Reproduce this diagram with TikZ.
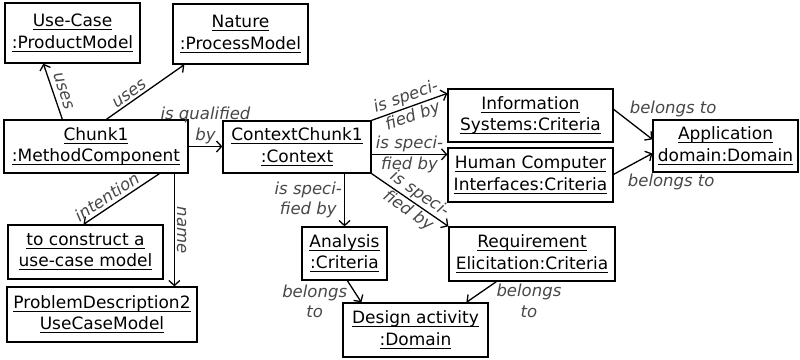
\documentclass[tikz,border=0pt]{standalone}
\usepackage{fontspec}
\setmainfont{DejaVu Sans}
\usetikzlibrary{arrows.meta}
\newcommand\ulx[1]{\setbox0\hbox{#1}\rlap{\rule[-3.5pt]{\wd0}{1.1pt}}\box0}
\newcommand\boxfont{\fontsize{17}{21.5}\selectfont}
\newcommand\labfont{\fontsize{16.5}{20.5}\selectfont\itshape}
\tikzset{
  obj/.style={draw, line width=1.3pt, inner sep=0pt, align=center, font=\boxfont},
  lab/.style={font=\labfont, text=black!72, inner sep=2pt, align=center},
  conn/.style={draw, line width=1.3pt, -{Straight Barb[length=5pt,width=11pt]}}
}
\begin{document}
\begin{tikzpicture}[x=1pt,y=-1pt]
\useasboundingbox (0,0) rectangle (800,359);
% objects
\node[obj, minimum width=135pt, minimum height=60pt] (usecase) at (72.5,33) {\ulx{Use-Case}\\\ulx{:ProductModel}};
\node[obj, minimum width=135pt, minimum height=60pt] (nature) at (240.5,34) {\ulx{Nature}\\\ulx{:ProcessModel}};
\node[obj, minimum width=184pt, minimum height=53pt] (chunk) at (96,146.5) {\ulx{Chunk1}\\\ulx{:MethodComponent}};
\node[obj, minimum width=148pt, minimum height=52pt] (ctx) at (297,147) {\ulx{ContextChunk1}\\\ulx{:Context}};
\node[obj, minimum width=165pt, minimum height=53pt] (info) at (530.5,115.5) {\ulx{Information}\\\ulx{Systems:Criteria}};
\node[obj, minimum width=165pt, minimum height=54pt] (hci) at (530.5,175) {\ulx{Human Computer}\\\ulx{Interfaces:Criteria}};
\node[obj, minimum width=145pt, minimum height=52pt] (appl) at (725.5,146) {\ulx{Application}\\\ulx{domain:Domain}};
\node[obj, minimum width=166pt, minimum height=54pt] (req) at (532,254) {\ulx{Requirement}\\\ulx{Elicitation:Criteria}};
\node[obj, minimum width=85pt, minimum height=53pt] (analysis) at (344.5,253.5) {\ulx{Analysis}\\\ulx{:Criteria}};
\node[obj, minimum width=145pt, minimum height=54pt] (design) at (415.5,330) {\ulx{Design activity}\\\ulx{:Domain}};
\node[obj, minimum width=155pt, minimum height=54pt] (construct) at (85.5,252) {\ulx{to construct a}\\\ulx{use-case model}};
\node[obj, minimum width=190pt, minimum height=55pt] (problem) at (102,314.5) {\ulx{ProblemDescription2}\\\ulx{UseCaseModel}};
% helper coordinates
\coordinate (e1) at ([yshift=-7pt]hci.north west);
\coordinate (i1) at ([xshift=171pt]chunk.south west);
% connectors
\draw[conn] ([xshift=59pt]chunk.north west) -- node[lab, sloped, above=3pt, pos=0.45] {uses} ([xshift=39pt]usecase.south west);
\draw[conn] ([xshift=103pt]chunk.north west) -- node[lab, sloped, above, pos=0.35] {uses} ([xshift=12pt]nature.south west);
\draw[conn] (chunk.east) -- node[lab, above=0pt] {is qualified\\by} (chunk.east -| ctx.west);
\draw[conn] (ctx.north east) -- node[lab, sloped] {is speci-\\fied by} ([yshift=-5pt]info.north west);
\draw[conn] (ctx.east |- e1) -- node[lab] {is speci-\\fied by} (e1);
\draw[conn] (ctx.south east) -- node[lab, sloped, pos=0.55] {is speci-\\fied by} (req.north west);
\draw[conn] (ctx.south -| analysis.north) -- node[lab, left=0pt] {is speci-\\fied by} (analysis.north);
\draw[conn] ([xshift=156pt]chunk.south west) -- node[lab, sloped, above=1pt, pos=0.62] {intention} ([xshift=-2pt]construct.north);
\draw[conn] (i1) -- node[lab, sloped, above] {name} (i1 |- problem.north);
\draw[conn] ([yshift=-21pt]info.north east) -- node[lab, pos=0.35, anchor=south west] {belongs to} ([yshift=-20pt]appl.north west);
\draw[conn] ([yshift=-27pt]hci.north east) -- node[lab, pos=0.3, anchor=north west, yshift=-3pt] {belongs to} ([yshift=-34pt]appl.north west);
\draw[conn] ([xshift=46pt]analysis.south west) -- node[lab, pos=0.1, anchor=north east, inner sep=1pt] {belongs\\to} ([xshift=19pt]design.north west);
\draw[conn] ([xshift=48pt]req.south west) -- node[lab, pos=0.05, anchor=north west, inner sep=1pt] {belongs\\to} ([xshift=124pt]design.north west);
\end{tikzpicture}
\end{document}
